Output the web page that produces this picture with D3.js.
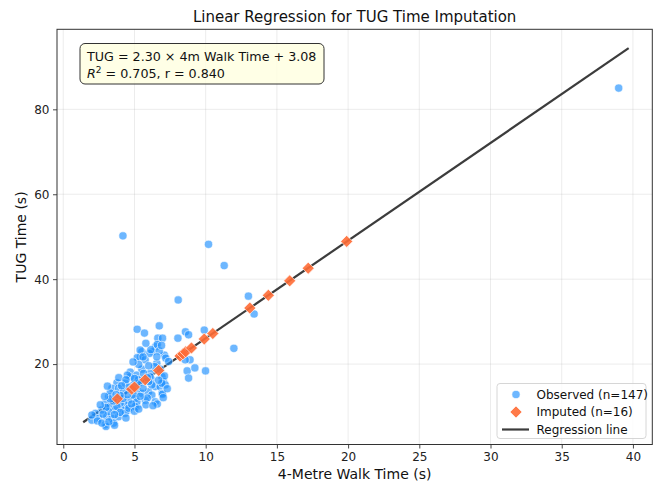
<!DOCTYPE html>
<html>
<head>
<meta charset="utf-8">
<script src="https://cdn.jsdelivr.net/npm/d3@7"></script>
<style>
  body { margin: 0; background: #fff; }
  svg { font-family: "DejaVu Sans", sans-serif; }
</style>
</head>
<body>
<svg width="657" height="484"></svg>
<script>
// observed points (4m walk time, TUG time)
const obsX = [4.19, 10.2, 11.3, 8.07, 13.0, 13.4, 11.98, 8.58, 8.8, 9.9, 8.05, 8.7, 8.8, 9.24, 9.99, 8.9, 6.74, 5.19, 5.7, 6.64,
  6.97, 39.0, 6.48, 6.27, 6.04, 7.1, 5.52, 5.43, 5.75, 6.57, 6.41, 8.56, 4.7, 5.17, 5.52, 6.1, 5.28, 6.22, 6.93, 7.04,
  6.46, 6.8, 7.16, 3.77, 3.42, 3.88, 4.23, 5.17, 5.52, 5.99, 6.22, 6.93, 5.05, 5.75, 6.46, 4.58, 4.35, 5.17, 4.58, 4.12,
  3.18, 2.95, 3.3, 3.65, 2.71, 2.25, 2.48, 3.06, 3.42, 3.88, 2.95, 2.01, 4.35, 3.53, 4.0, 3.77, 3.18, 4.93, 4.7, 4.35,
  4.93, 5.4, 5.2, 5.6, 6.15, 6.6, 6.74, 7.2, 6.57, 6.8, 7.1, 6.93, 6.97, 6.6, 6.1, 6.22, 5.9, 5.17, 5.33, 5.64,
  4.5, 5.0, 2.01, 2.4, 3.0, 2.71, 3.5, 4.0, 4.6, 5.05, 5.8, 6.3, 7.02, 3.0, 2.8, 3.6, 4.2, 4.5, 3.3, 4.8,
  5.4, 4.0, 3.6, 3.2, 4.6, 5.0, 5.6, 6.0, 5.3, 4.9, 7.4, 6.0, 2.6, 3.9, 4.4, 5.8, 6.9, 3.3, 2.9, 4.1,
  5.3, 7.3, 6.7, 3.1, 4.4, 5.9, 3.7];
const obsY = [50.2, 48.2, 43.2, 35.1, 36.0, 31.8, 23.7, 27.6, 26.9, 28.0, 26.1, 18.4, 16.7, 19.1, 18.4, 21.0, 29.0, 28.2, 27.3, 26.1,
  26.1, 85.0, 24.1, 22.9, 22.5, 22.1, 22.9, 21.7, 21.0, 20.2, 19.4, 21.0, 18.1, 17.4, 18.8, 17.8, 16.3, 16.3, 17.0, 15.9,
  14.7, 14.7, 15.1, 15.6, 14.3, 14.3, 13.5, 13.9, 13.1, 13.5, 12.7, 13.1, 11.9, 11.5, 11.1, 11.5, 10.4, 10.0, 9.2, 9.2,
  12.3, 10.8, 10.0, 9.2, 9.2, 8.4, 7.2, 7.6, 7.2, 7.6, 5.7, 6.8, 8.4, 6.1, 10.8, 10.0, 8.8, 15.1, 17.0, 15.5,
  12.7, 23.3, 21.5, 21.7, 23.4, 24.6, 23.1, 21.4, 21.7, 18.8, 17.2, 15.5, 12.9, 10.6, 17.0, 15.1, 12.0, 11.1, 15.6, 17.8,
  17.4, 16.6, 8.0, 6.6, 5.3, 6.1, 11.3, 8.6, 9.6, 10.0, 10.4, 10.2, 12.1, 9.8, 8.2, 8.1, 11.9, 12.8, 13.2, 10.6,
  12.4, 12.6, 5.6, 6.4, 14.6, 8.9, 14.3, 19.6, 19.9, 20.5, 20.6, 15.9, 10.4, 16.8, 16.3, 24.9, 24.4, 11.8, 12.4, 14.9,
  9.4, 14.2, 16.2, 14.8, 7.3, 16.8, 12.8];

// imputed points (on the regression line)
const impX = [3.8, 4.8, 5.0, 5.75, 6.7, 8.2, 8.4, 8.6, 9.0, 9.9, 10.5, 13.1, 14.4, 15.9, 17.2, 19.9];
const impY = [11.8, 14.1, 14.6, 16.3, 18.5, 21.9, 22.4, 22.9, 23.8, 25.9, 27.2, 33.2, 36.2, 39.6, 42.6, 48.9];

// regression line end points
const lineX = [1.4, 39.7];
const lineY = [6.3, 94.4];

const xTicks = [0, 5, 10, 15, 20, 25, 30, 35, 40];
const yTicks = [20, 40, 60, 80];

const svg = d3.select('svg');
const pL = 57, pR = 652.3, pT = 29.3, pB = 444.5;

const x = d3.scaleLinear().domain([-0.44, 41.36]).range([pL, pR]);
const y = d3.scaleLinear().domain([1.06, 98.85]).range([pB, pT]);

// grid
svg.append('g').selectAll('line')
  .data(xTicks)
  .join('line')
  .attr('x1', d => x(d)).attr('x2', d => x(d))
  .attr('y1', pT).attr('y2', pB)
  .attr('stroke', '#b0b0b0').attr('stroke-opacity', 0.3).attr('stroke-width', 0.8);
svg.append('g').selectAll('line')
  .data(yTicks)
  .join('line')
  .attr('x1', pL).attr('x2', pR)
  .attr('y1', d => y(d)).attr('y2', d => y(d))
  .attr('stroke', '#b0b0b0').attr('stroke-opacity', 0.3).attr('stroke-width', 0.8);

// axes
const xAxis = svg.append('g')
  .attr('transform', `translate(0, ${pB})`)
  .call(d3.axisBottom(x).tickValues(xTicks).tickSize(4).tickSizeOuter(0).tickPadding(3.5));
const yAxis = svg.append('g')
  .attr('transform', `translate(${pL}, 0)`)
  .call(d3.axisLeft(y).tickValues(yTicks).tickSize(4).tickSizeOuter(0).tickPadding(3.5));
[xAxis, yAxis].forEach(a => {
  a.select('.domain').remove();
  a.selectAll('line').attr('stroke', '#333').attr('stroke-width', 0.9);
  a.selectAll('text').attr('fill', '#222').style('font-size', '12px').style('font-family', '"DejaVu Sans", sans-serif');
});

// regression line
svg.append('line')
  .attr('x1', x(lineX[0])).attr('y1', y(lineY[0]))
  .attr('x2', x(lineX[1])).attr('y2', y(lineY[1]))
  .attr('stroke', '#1a1a1a').attr('stroke-opacity', 0.85).attr('stroke-width', 2.2);

// observed
svg.append('g').selectAll('circle')
  .data(obsX)
  .join('circle')
  .attr('cx', d => x(d))
  .attr('cy', (d, i) => y(obsY[i]))
  .attr('r', 4.1)
  .attr('fill', '#1E90FF')
  .attr('fill-opacity', 0.65)
  .attr('stroke', '#fff')
  .attr('stroke-width', 0.6);

// imputed
const diamond = d3.symbol().type(d3.symbolSquare).size(72);
svg.append('g').selectAll('path')
  .data(impX)
  .join('path')
  .attr('d', diamond)
  .attr('transform', (d, i) => `translate(${x(d)}, ${y(impY[i])}) rotate(45)`)
  .attr('fill', '#FF6B35')
  .attr('fill-opacity', 0.9)
  .attr('stroke', '#fff')
  .attr('stroke-width', 0.6);

// frame
svg.append('rect')
  .attr('x', pL).attr('y', pT)
  .attr('width', pR - pL).attr('height', pB - pT)
  .attr('fill', 'none').attr('stroke', '#333').attr('stroke-width', 1);

// title and labels
svg.append('text')
  .attr('x', (pL + pR) / 2).attr('y', 22)
  .attr('text-anchor', 'middle')
  .style('font-size', '15px')
  .attr('fill', '#111')
  .text('Linear Regression for TUG Time Imputation');
svg.append('text')
  .attr('x', (pL + pR) / 2).attr('y', 479)
  .attr('text-anchor', 'middle')
  .style('font-size', '14px')
  .attr('fill', '#111')
  .text('4-Metre Walk Time (s)');
svg.append('text')
  .attr('transform', `translate(26, ${(pT + pB) / 2}) rotate(-90)`)
  .attr('text-anchor', 'middle')
  .style('font-size', '14px')
  .attr('fill', '#111')
  .text('TUG Time (s)');

// equation box
svg.append('rect')
  .attr('x', 80).attr('y', 43.5).attr('width', 244).attr('height', 40.5)
  .attr('rx', 5)
  .attr('fill', '#ffffe0').attr('fill-opacity', 0.8)
  .attr('stroke', '#333').attr('stroke-width', 1);
svg.append('text')
  .attr('x', 87).attr('y', 61)
  .style('font-size', '12.7px').attr('fill', '#111')
  .text('TUG = 2.30 × 4m Walk Time + 3.08');
const r2 = svg.append('text')
  .attr('x', 87).attr('y', 77.5)
  .style('font-size', '12.7px').attr('fill', '#111');
r2.append('tspan').style('font-style', 'italic').text('R');
r2.append('tspan').attr('dy', -5).style('font-size', '9px').text('2');
r2.append('tspan').attr('dy', 5).text(' = 0.705, r = 0.840');

// legend
const legend = svg.append('g');
legend.append('rect')
  .attr('x', 497).attr('y', 383.5).attr('width', 149).attr('height', 55)
  .attr('rx', 3)
  .attr('fill', '#fff').attr('fill-opacity', 0.8)
  .attr('stroke', '#ccc').attr('stroke-width', 0.8);
legend.append('circle')
  .attr('cx', 516).attr('cy', 394.5).attr('r', 4.1)
  .attr('fill', '#1E90FF').attr('fill-opacity', 0.65)
  .attr('stroke', '#fff').attr('stroke-width', 0.6);
legend.append('path')
  .attr('d', diamond)
  .attr('transform', 'translate(516, 412) rotate(45)')
  .attr('fill', '#FF6B35').attr('fill-opacity', 0.9)
  .attr('stroke', '#fff').attr('stroke-width', 0.6);
legend.append('line')
  .attr('x1', 502).attr('x2', 529).attr('y1', 429.5).attr('y2', 429.5)
  .attr('stroke', '#1a1a1a').attr('stroke-opacity', 0.85).attr('stroke-width', 2.2);
legend.selectAll('text.lab')
  .data(['Observed (n=147)', 'Imputed (n=16)', 'Regression line'])
  .join('text')
  .attr('class', 'lab')
  .attr('x', 536.5)
  .attr('y', (d, i) => 398.5 + i * 17.5)
  .style('font-size', '12px')
  .attr('fill', '#111')
  .text(d => d);
</script>
</body>
</html>
